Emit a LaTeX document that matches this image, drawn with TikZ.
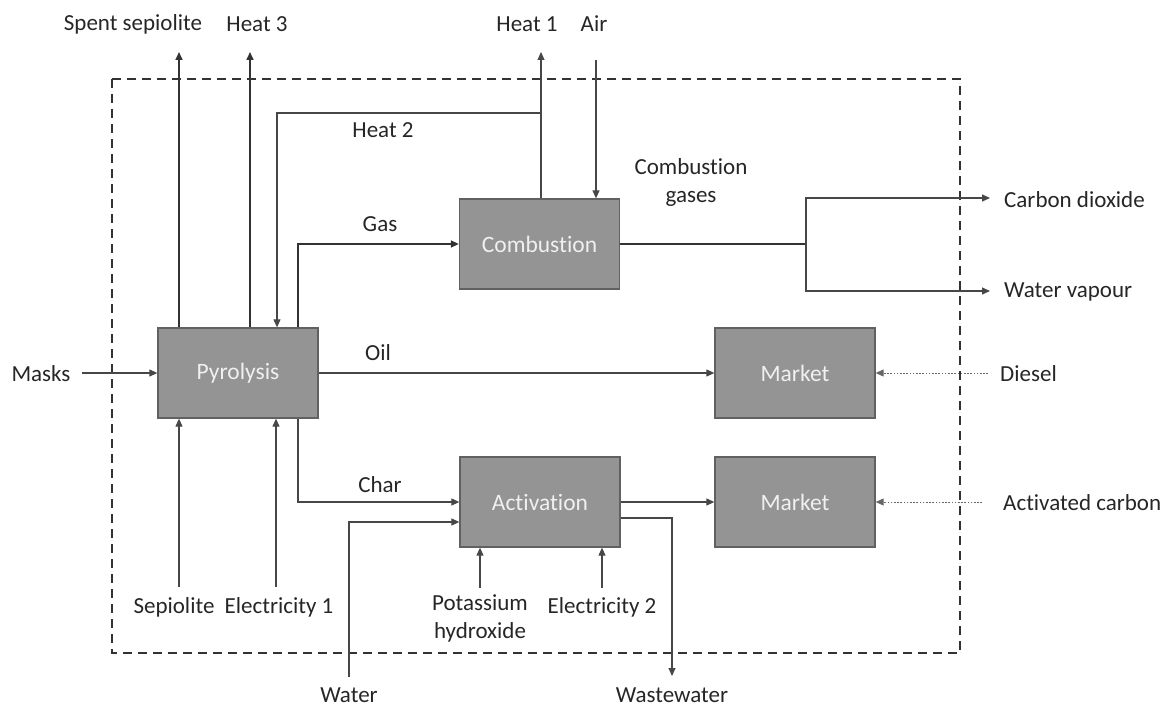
\documentclass[tikz,border=0pt]{standalone}
\usepackage{fontspec}
\setmainfont{Carlito}[Ligatures=NoCommon]
\usetikzlibrary{arrows.meta,calc}
\begin{document}
\begin{tikzpicture}[x=1pt,y=-1pt,
  lbl/.style={font=\fontsize{23}{28}\selectfont, text=black!85, inner sep=0pt, align=center},
  proc/.style={draw=black!62, fill=black!42, line width=1.3pt, minimum width=160pt, minimum height=90pt, text=white!94!black, font=\fontsize{23.5}{27}\selectfont, inner sep=0pt},
  flow/.style={draw=black!72, line width=1.1pt, -{Triangle[length=8pt,width=7pt]}},
  bold/.style={draw=black!80, line width=1.6pt},
  dotflow/.style={draw=black!60, line width=1pt, dash pattern=on 1.6pt off 1.6pt, -{Triangle[length=8pt,width=7pt]}},
  boundary/.style={draw=black!80, line width=1.4pt, dash pattern=on 9pt off 6pt}
]
\useasboundingbox (0,0) rectangle (1169,706);
\draw[boundary] (112,79) rectangle (960,653);

% process boxes
\node[proc] (pyro) at (238,373) {Pyrolysis};
\node[proc] (comb) at (539.5,244) {Combustion};
\node[proc] (act)  at (540,502) {Activation};
\node[proc] (mk1)  at (795,373) {Market};
\node[proc] (mk2)  at (795,502) {Market};

% labels
\node[lbl] (lspent) at (133,24) {Spent sepiolite};
\node[lbl] (lheat3) at (257,24) {Heat 3};
\node[lbl] (lheat1) at (527,24) {Heat 1};
\node[lbl] (lair) at (594,24) {Air};
\node[lbl] (lheat2) at (383,130) {Heat 2};
\node[lbl] (lcg) at (691,182) {Combustion\\gases};
\node[lbl] (lgas) at (380,224) {Gas};
\node[lbl] (loil) at (378,353) {Oil};
\node[lbl] (lmasks) at (41,374) {Masks};
\node[lbl] (lchar) at (380,485) {Char};
\node[lbl] (lsep) at (174,607) {Sepiolite};
\node[lbl] (lel1) at (279,607) {Electricity 1};
\node[lbl] (lkoh) at (480,618) {Potassium\\hydroxide};
\node[lbl] (lel2) at (602,607) {Electricity 2};
\node[lbl] (lwater) at (349,695) {Water};
\node[lbl] (lww) at (672,695) {Wastewater};
\node[lbl, anchor=west] (lco2) at (1004,200) {Carbon dioxide};
\node[lbl, anchor=west] (lh2o) at (1004,292) {Water vapour};
\node[lbl, anchor=west] (ldiesel) at (1000,374) {Diesel};
\node[lbl, anchor=west] (lac) at (1003,503) {Activated carbon};

% coordinates for free ends and bends
\coordinate (spentTop) at (179,52);
\coordinate (heat3Top) at (250,52);
\coordinate (h2a) at (541,113);
\coordinate (h2b) at (277,113);
\coordinate (heat1Top) at (541,52);
\coordinate (airTop) at (596,60);
\coordinate (gasC) at (298,244);
\coordinate (dieselS) at (988,373);
\coordinate (masksS) at (82,373);
\coordinate (sepS) at (179,587);
\coordinate (el1S) at (276,587);
\coordinate (charC) at (298,502);
\coordinate (waterS) at (349,677);
\coordinate (waterC) at (349,522);
\coordinate (kohS) at (480,588);
\coordinate (el2S) at (602,588);
\coordinate (wwA) at (672,518);
\coordinate (wwE) at (672,676);
\coordinate (acS) at (982,502);
\coordinate (split) at (806,244);
\coordinate (co2) at (990,198);
\coordinate (h2o) at (990,291);

% connectors
\draw[flow, bold] (pyro.north -| spentTop) -- (spentTop);
\draw[flow, bold] (pyro.north -| heat3Top) -- (heat3Top);
\draw[flow] (comb.north -| h2a) -- (h2a) -- (h2b) -- (pyro.north -| h2b);
\draw[flow] (h2a) -- (heat1Top);
\draw[flow] (airTop) -- (comb.north -| airTop);
\draw[flow, bold] (pyro.north -| gasC) -- (gasC) -- (comb.west);
\draw[flow] (pyro.east) -- (mk1.west);
\draw[dotflow] (dieselS) -- (mk1.east);
\draw[flow] (masksS) -- (pyro.west);
\draw[flow] (sepS) -- (pyro.south -| sepS);
\draw[flow] (el1S) -- (pyro.south -| el1S);
\draw[flow] (pyro.south -| charC) -- (charC) -- (act.west);
\draw[flow] (waterS) -- (waterC) -- (act.west |- waterC);
\draw[flow] (kohS) -- (act.south -| kohS);
\draw[flow] (el2S) -- (act.south -| el2S);
\draw[flow] (act.east |- wwA) -- (wwA) -- (wwE);
\draw[flow] (act.east) -- (mk2.west);
\draw[dotflow] (acS) -- (mk2.east);
\draw[bold] (comb.east) -- (split);
\draw[flow] (split) -- (split |- co2) -- (co2);
\draw[flow] (split) -- (split |- h2o) -- (h2o);
\end{tikzpicture}
\end{document}
